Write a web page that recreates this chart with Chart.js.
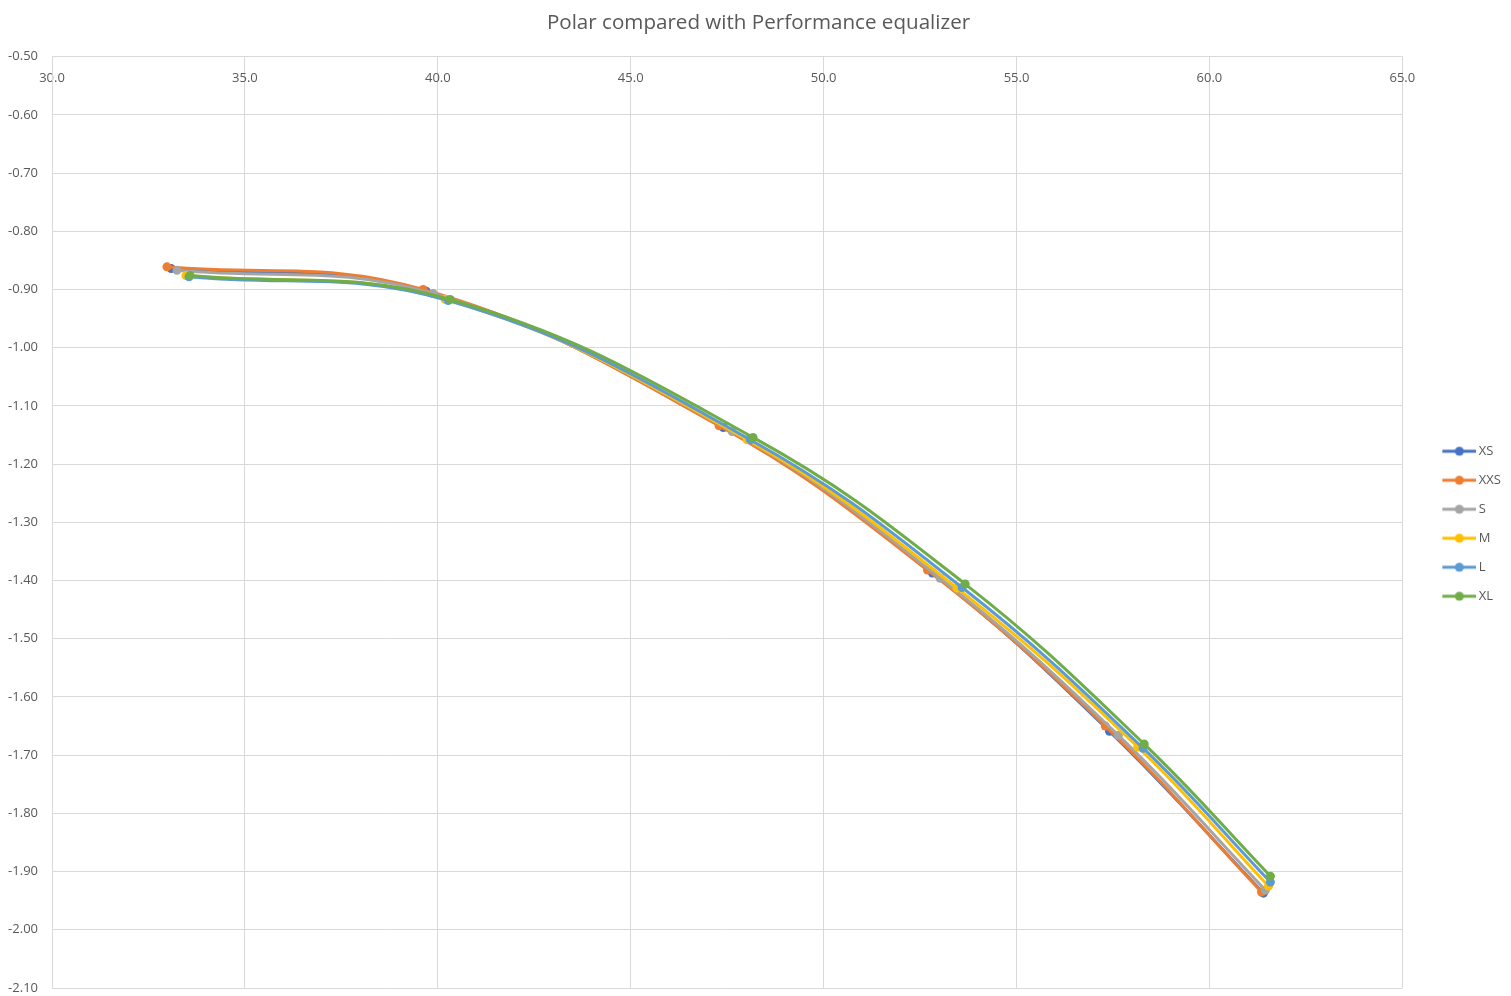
<!DOCTYPE html>
<html>
<head>
<meta charset="utf-8">
<script src="https://cdn.jsdelivr.net/npm/chart.js@4"></script>
<style>
  body { margin: 0; background: #fff; }
  #wrap { width: 1511px; height: 996px; }
</style>
</head>
<body>
<div id="wrap"><canvas id="myCanvas"></canvas></div>
<script>
var seriesNames = ['XS', 'XXS', 'S', 'M', 'L', 'XL']

var xsX  = [33.09, 39.70, 47.40, 52.82, 57.41, 61.40]
var xsY  = [-0.864, -0.903, -1.137, -1.387, -1.659, -1.937]
var xxsX = [32.98, 39.62, 47.29, 52.69, 57.30, 61.35]
var xxsY = [-0.861, -0.900, -1.134, -1.382, -1.650, -1.935]
var sX   = [33.24, 39.88, 47.63, 53.02, 57.64, 61.45]
var sY   = [-0.867, -0.907, -1.144, -1.396, -1.666, -1.932]
var mX   = [33.47, 40.19, 48.02, 53.46, 58.14, 61.53]
var mY   = [-0.876, -0.917, -1.158, -1.413, -1.686, -1.925]
var lX   = [33.55, 40.27, 48.10, 53.59, 58.28, 61.58]
var lY   = [-0.878, -0.919, -1.158, -1.412, -1.688, -1.918]
var xlX  = [33.58, 40.32, 48.17, 53.67, 58.31, 61.58]
var xlY  = [-0.876, -0.917, -1.154, -1.406, -1.681, -1.908]

var colors = ['#4472C4', '#ED7D31', '#A5A5A5', '#FFC000', '#5B9BD5', '#70AD47']
var allX = [xsX, xxsX, sX, mX, lX, xlX]
var allY = [xsY, xxsY, sY, mY, lY, xlY]

var font = 'Open Sans, Lato, sans-serif'

// little line-with-dot picture for the legend
function legendMark(color) {
    var c = document.createElement('canvas')
    c.width = 62
    c.height = 12
    var g = c.getContext('2d')
    g.strokeStyle = color
    g.lineWidth = 3
    g.beginPath()
    g.moveTo(28, 6)
    g.lineTo(62, 6)
    g.stroke()
    g.fillStyle = color
    g.beginPath()
    g.arc(45, 6, 4.5, 0, Math.PI * 2)
    g.fill()
    return c
}

var datasets = seriesNames.map(function (name, i) {
    return {
        label: name,
        data: allX[i].map(function (x, j) { return {x: x, y: allY[i][j]} }),
        borderColor: colors[i],
        backgroundColor: colors[i],
        borderWidth: 3,
        pointRadius: 4.5,
        pointHoverRadius: 4.5,
        pointBorderWidth: 0,
        showLine: true,
        tension: 0.4,
        fill: false,
        order: seriesNames.length - i,
        pointStyle: 'circle',
        legendImg: legendMark(colors[i])
    }
})

var ctx = document.getElementById('myCanvas')
var myChart = new Chart(ctx, {
    type: 'scatter',
    data: { datasets: datasets },
    options: {
        responsive: true,
        maintainAspectRatio: false,
        animation: false,
        layout: { padding: { left: 6, right: 0, top: 0, bottom: 0 } },
        plugins: {
            title: {
                display: true,
                text: 'Polar compared with Performance equalizer',
                color: '#595959',
                font: { family: font, size: 20.6, weight: 'normal' },
                padding: { top: 11, bottom: 21 }
            },
            legend: {
                position: 'right',
                title: {
                    display: true,
                    text: ' ',
                    font: { size: 12 },
                    padding: { top: 0, bottom: 37 }
                },
                labels: {
                    usePointStyle: true,
                    pointStyleWidth: 54,
                    padding: 16,
                    color: '#595959',
                    font: { family: font, size: 13 },
                    generateLabels: function (chart) {
                        return chart.data.datasets.map(function (ds, i) {
                            return {
                                text: ds.label,
                                pointStyle: ds.legendImg,
                                fillStyle: ds.borderColor,
                                strokeStyle: ds.borderColor,
                                lineWidth: 0,
                                fontColor: '#595959',
                                hidden: false,
                                datasetIndex: i
                            }
                        })
                    }
                }
            },
            tooltip: { enabled: false }
        },
        scales: {
            x: {
                type: 'linear',
                position: { y: -0.5 },
                min: 30,
                max: 65,
                afterFit: function (scale) { scale.height = 0 },
                ticks: {
                    stepSize: 5,
                    padding: 14,
                    color: '#595959',
                    font: { family: font, size: 13 },
                    callback: function (v) { return Number(v).toFixed(1) }
                },
                grid: { color: '#d9d9d9', drawTicks: false },
                border: { color: '#d9d9d9' }
            },
            y: {
                type: 'linear',
                min: -2.1,
                max: -0.5,
                afterFit: function (scale) {
                    scale.width = 46
                    scale.paddingTop = 0
                    scale.paddingBottom = 8
                },
                ticks: {
                    stepSize: 0.1,
                    padding: 14,
                    color: '#595959',
                    font: { family: font, size: 13 },
                    callback: function (v) { return Number(v).toFixed(2) }
                },
                grid: { color: '#d9d9d9', drawTicks: false },
                border: { color: '#d9d9d9' }
            }
        }
    }
});
</script>
</body>
</html>
